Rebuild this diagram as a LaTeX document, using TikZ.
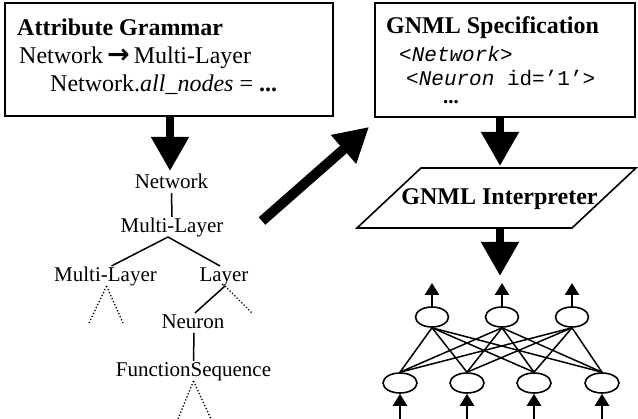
\documentclass[tikz,border=0pt]{standalone}
\usepackage{fontspec}
\setmainfont{Liberation Serif}
\newfontfamily\monof{Liberation Mono}
\newfontfamily\arrowf{DejaVu Sans}
\usetikzlibrary{arrows.meta,shapes.geometric}
\begin{document}
\begin{tikzpicture}[x=1pt,y=-1pt,
  frame/.style={draw,line width=1.6pt,inner sep=0pt},
  txt/.style={anchor=base west,inner sep=0pt,font=\fontsize{24}{28}\selectfont},
  mono/.style={anchor=base west,inner sep=0pt,font=\fontsize{21}{25}\selectfont\monof},
  tree/.style={inner sep=0pt,outer sep=2pt,text height=14pt,text depth=2pt,font=\fontsize{21}{25}\selectfont},
  tline/.style={line width=1.5pt},
  tdot/.style={line width=1.3pt,dotted},
  big/.style={line width=8pt,-{Triangle[length=34pt,width=36pt]}},
  neuron/.style={draw,ellipse,line width=1.6pt,minimum width=33pt,minimum height=20pt,inner sep=0pt},
  syn/.style={line width=1.5pt},
  io/.style={line width=2.5pt,-{Triangle[length=12pt,width=14pt]}}
]
\useasboundingbox (0,0) rectangle (638,419);

% Attribute grammar box
\node[frame,minimum width=328pt,minimum height=113pt] (ag) at (169,59.5) {};
\node[txt] (agt) at (17,36) {\bfseries Attribute Grammar};
\node[txt] (ag1) at (19,64) {Network\hspace{4pt}{\arrowf\bfseries\fontsize{27}{28}\selectfont →}\hspace{4pt}Multi-Layer};
\node[txt] (ag2) at (50,92) {Network.\textit{all\_nodes} = \textbf{...}};

% GNML specification box
\node[frame,minimum width=260pt,minimum height=114pt] (spec) at (505,60) {};
\node[txt] (spect) at (386,34) {\bfseries GNML Specification};
\node[mono] (sp1) at (399,62) {<\textit{Network}>};
\node[mono,text depth=0pt] (sp2) at (406,86) {<\textit{Neuron} id=’1’>};
\node[txt,font=\fontsize{21}{25}\selectfont,text height=4pt,text depth=0pt] (sp3) at (443,104) {\textbf{...}};

% GNML interpreter
\coordinate (i1) at (421,168);
\coordinate (i2) at (636,168);
\coordinate (i3) at (572,228);
\coordinate (i4) at (357,228);
\draw[line width=1.6pt] (i1) -- (i2) -- (i3) -- (i4) -- cycle;
\node[anchor=base,inner sep=0pt,font=\fontsize{24}{28}\selectfont\bfseries] (interp) at (499.5,205) {GNML Interpreter};

% big arrows
\coordinate (a1s) at (170,116);  \coordinate (a1e) at (170,171);
\coordinate (a2s) at (500,117);  \coordinate (a2e) at (500,166);
\coordinate (a3s) at (500,228);  \coordinate (a3e) at (500,276);
\coordinate (a4s) at (262,221);  \coordinate (a4e) at (369,127);
\draw[big] (a1s) -- (a1e);
\draw[big] (a2s) -- (a2e);
\draw[big] (a3s) -- (a3e);
\draw[big,line width=10pt] (a4s) -- (a4e);

% derivation tree
\node[tree,anchor=base] (net) at (171.5,189) {Network};
\node[tree,anchor=base] (ml) at (172,233) {Multi-Layer};
\node[tree,anchor=base] (mlc) at (105.5,282) {Multi-Layer};
\node[tree,anchor=base] (lay) at (224,282) {Layer};
\node[tree,anchor=base] (neu) at (193,329) {Neuron};
\node[tree,anchor=base] (fs) at (193.5,377) {FunctionSequence};
\coordinate (d1) at (89,323);
\coordinate (d2) at (123,323);
\coordinate (d3) at (252,313);
\coordinate (d4) at (178,419);
\coordinate (d5) at (211,419);
\draw[tline] (net.south) -- (ml.north);
\draw[tline] ([xshift=-4pt]ml.south) -- ([xshift=6pt]mlc.north);
\draw[tline] ([xshift=-4pt]ml.south) -- ([xshift=-4pt]lay.north);
\draw[tdot] ([xshift=1pt]mlc.south) -- (d1);
\draw[tdot] ([xshift=1pt]mlc.south) -- (d2);
\draw[tline] ([xshift=1pt]lay.south) -- ([xshift=2pt]neu.north);
\draw[tdot] ([xshift=1pt]lay.south) -- (d3);
\draw[tline] ([xshift=1pt]neu.south) -- ([xshift=0pt]fs.north);
\draw[tdot] (fs.south) -- (d4);
\draw[tdot] (fs.south) -- (d5);

% neural network
\node[neuron] (t1) at (432,317) {};
\node[neuron] (t2) at (502,317) {};
\node[neuron] (t3) at (572,317) {};
\node[neuron,minimum width=34pt] (b1) at (400,383) {};
\node[neuron,minimum width=34pt] (b2) at (467,383) {};
\node[neuron,minimum width=34pt] (b3) at (534,383) {};
\node[neuron,minimum width=34pt] (b4) at (602,383) {};
\foreach \t in {t1,t2,t3}{
  \foreach \b in {b1,b2,b3,b4}{
    \draw[syn] (\t.south) -- (\b.north);
  }
}
\foreach \t/\x in {t1/432,t2/502,t3/572}{
  \coordinate (o\t) at (\x,283);
  \draw[io] (\t.north) -- (o\t);
}
\foreach \b/\x in {b1/400,b2/467,b3/534,b4/602}{
  \coordinate (i\b) at (\x,419);
  \draw[io] (i\b) -- (\b.south);
}
\end{tikzpicture}
\end{document}
